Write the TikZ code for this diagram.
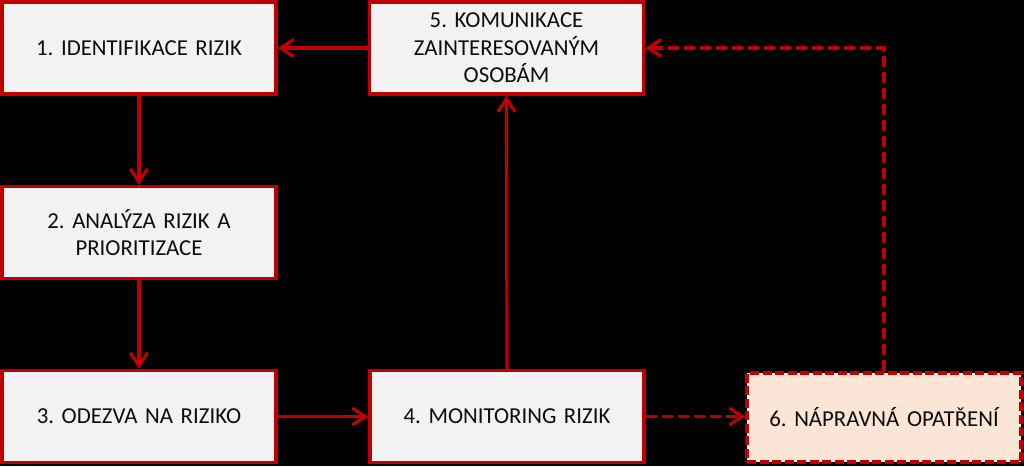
\documentclass[tikz,border=0pt]{standalone}
\usepackage{fontspec}
\setmainfont{Carlito}
\usetikzlibrary{arrows.meta}
\definecolor{boxred}{HTML}{C00000}
\definecolor{boxfill}{HTML}{F2F2F2}
\definecolor{actfill}{HTML}{FBE5D6}
\frenchspacing
\begin{document}
\begin{tikzpicture}[x=1pt,y=-1pt,
  stepbox/.style={draw=boxred, line width=3.5pt, fill=boxfill, minimum width=274pt, minimum height=92pt,
    inner sep=0pt, align=center, text width=260pt, font=\fontsize{22.8}{27.5}\selectfont, text=black!95},
  actbox/.style={stepbox, fill=actfill, dash pattern=on 9pt off 3.5pt},
  conn/.style={draw=boxred, line width=3.2pt, -{Straight Barb[length=13pt,width=17pt,line width=3.2pt]}},
  dconn/.style={conn, dash pattern=on 11pt off 5pt}]
\fill[black] (0,0) rectangle (1024,466);
\useasboundingbox (0,0) rectangle (1024,466);
\node[stepbox] (b1) at (139,48) {1. IDENTIFIKACE RIZIK};
\node[stepbox] (b5) at (506.5,48) {5. KOMUNIKACE\\ZAINTERESOVANÝM\\OSOBÁM};
\node[stepbox] (b2) at (139,232.5) {2. ANALÝZA RIZIK A\\PRIORITIZACE};
\node[stepbox] (b3) at (139,416.5) {3. ODEZVA NA RIZIKO};
\node[stepbox] (b4) at (507,416.5) {4. MONITORING RIZIK};
\node[actbox, minimum height=89pt] (b6) at (884,417.5) {6. NÁPRAVNÁ OPATŘENÍ};
\draw[conn] (b5.west) -- (b1.east);
\draw[conn] (b1.south) -- (b2.north);
\draw[conn] (b2.south) -- (b3.north);
\draw[conn] (b3.east) -- (b4.west);
\draw[conn] (b4.north) -- (b5.south);
\draw[dconn] (b4.east) -- (b4.east -| b6.west);
\draw[dconn] (b6.north) |- (b5.east);
\end{tikzpicture}
\end{document}
